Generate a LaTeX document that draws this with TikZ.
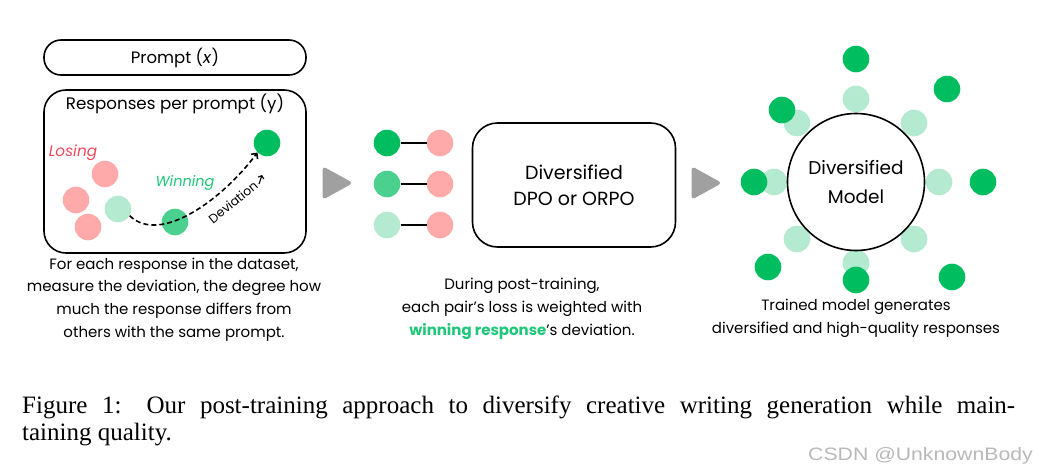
\documentclass[tikz,border=0pt]{standalone}
\usepackage{fontspec}
\setmainfont{Poppins}
\newfontfamily\capfont{Liberation Serif}
\newfontfamily\wmfont{Liberation Sans}
\usetikzlibrary{arrows.meta}
\definecolor{dgreen}{RGB}{0,190,95}
\definecolor{mgreen}{RGB}{76,208,143}
\definecolor{lgreen}{RGB}{179,234,208}
\definecolor{pinkc}{RGB}{255,170,170}
\definecolor{losered}{RGB}{243,72,90}
\definecolor{wingreen}{RGB}{30,200,120}
\definecolor{trigray}{RGB}{160,160,160}
\definecolor{wmgray}{RGB}{185,185,185}
\tikzset{
  dot/.style={circle, inner sep=0pt, minimum size=26.6pt},
  boxline/.style={draw, line width=1.6pt},
  tri/.style={fill=trigray, draw=trigray, line width=1pt, rounded corners=3pt},
  capt/.style={font=\fontsize{15}{22.7}\selectfont, align=center, inner sep=0pt},
}
\begin{document}
\begin{tikzpicture}[x=1pt,y=-1pt]
\useasboundingbox (0,0) rectangle (1039,471);
\fill[white] (0,0) rectangle (1039,471);

% left panel
\node[boxline, rounded corners=17pt, minimum width=262pt, minimum height=35pt,
      font=\fontsize{16.5}{18}\selectfont] (prompt) at (175,57.5) {Prompt (\textit{x})};
\node[boxline, rounded corners=22pt, minimum width=262pt, minimum height=163pt] (resp) at (175,171.5) {};
\node[font=\fontsize{16.7}{18}\selectfont] (resptitle) at (175,104) {Responses per prompt (y)};
\node[font=\fontsize{15.3}{16}\selectfont\itshape, text=losered] (losing) at (73,153) {Losing};
\node[font=\fontsize{14.5}{16}\selectfont\itshape, text=wingreen] (winning) at (185,183) {Winning};
\node[dot, fill=pinkc] (l1) at (105,174) {};
\node[dot, fill=pinkc] (l2) at (76,200) {};
\node[dot, fill=pinkc] (l3) at (88,227) {};
\node[dot, fill=lgreen] (w1) at (118,209) {};
\node[dot, fill=mgreen] (w2) at (175,222) {};
\node[dot, fill=dgreen] (w3) at (267,143) {};
\draw[line width=1.6pt, dash pattern=on 5pt off 3pt, -{Straight Barb[length=4pt,width=8pt]}]
  (w1.-30) .. controls (160,245) and (222,200) .. (w3.-135);
\node[rotate=39, inner sep=1pt, font=\fontsize{12.5}{14}\selectfont] (dev) at (233,202) {Deviation};
\coordinate (da) at (259,184);
\coordinate (db) at (262,175);
\draw[line width=1.1pt, -{Straight Barb[length=2.5pt,width=6pt]}] (da) -- (db);
\node[capt] (capleft) at (174,299.5) {For each response in the dataset,\\measure the deviation, the degree how\\much the response differs from\\others with the same prompt.};

% arrow 1
\fill[tri] (323,167) -- (352,183) -- (323,199) -- cycle;

% pairs
\node[dot, fill=dgreen] (p1a) at (387,143) {};
\node[dot, fill=pinkc] (p1b) at (440,143) {};
\node[dot, fill=mgreen] (p2a) at (387,184) {};
\node[dot, fill=pinkc] (p2b) at (440,184) {};
\node[dot, fill=lgreen] (p3a) at (387,225) {};
\node[dot, fill=pinkc] (p3b) at (440,225) {};
\draw[line width=1.2pt] (p1a) -- (p1b);
\draw[line width=1.2pt] (p2a) -- (p2b);
\draw[line width=1.2pt] (p3a) -- (p3b);

\node[boxline, rounded corners=25pt, minimum width=203pt, minimum height=124pt,
      align=center, font=\fontsize{19}{26}\selectfont] (dpo) at (574,185) {Diversified\\DPO or ORPO};
\node[capt] (capmid) at (522,309) {During post-training,\\each pair’s loss is weighted with\\{\bfseries\color{wingreen}winning response}’s deviation.};

% arrow 2
\fill[tri] (692,167) -- (721,183) -- (692,199) -- cycle;

% model
\foreach \n/\x/\y in {a/856/99, b/914/123, c/939/182, d/914/239, e/856/263, f/797/239, g/774/182, h/797/123}
  \node[dot, fill=lgreen] (lg\n) at (\x,\y) {};
\node[circle, boxline, fill=white, minimum size=137pt, inner sep=0pt, align=center,
      font=\fontsize{18.5}{29}\selectfont] (model) at (856,182) {Diversified\\Model};
\foreach \n/\x/\y in {a/856/59, b/947/89, c/983/182, d/952/277, e/856/280, f/768/267, g/754/182, h/782/110}
  \node[dot, fill=dgreen] (dg\n) at (\x,\y) {};
\node[capt] (capright) at (856,318) {Trained model generates\\diversified and high-quality responses};

% figure caption
\node[anchor=base west, inner sep=0pt, font=\capfont\fontsize{25}{27}\selectfont] (fig1) at (22,413)
  {\makebox[993pt][s]{Figure 1: Our post-training approach to diversify creative writing generation while main-}};
\node[anchor=base west, inner sep=0pt, font=\capfont\fontsize{25}{27}\selectfont] (fig2) at (22,440)
  {taining quality.};
\node[anchor=base east, inner sep=0pt, text=wmgray, font=\wmfont\fontsize{18}{20}\selectfont] (wm) at (1033,460)
  {\scalebox{1.18}[1]{CSDN @UnknownBody}};
\end{tikzpicture}
\end{document}
